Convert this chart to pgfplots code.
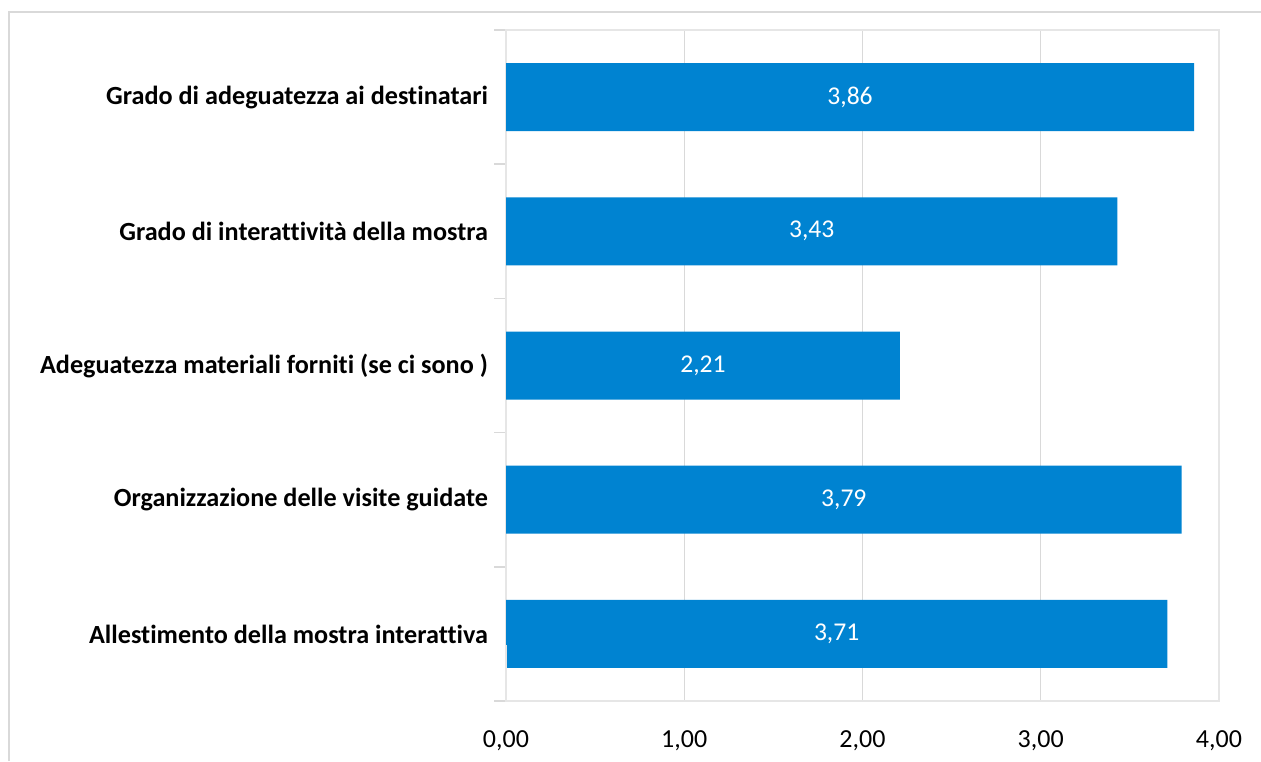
\documentclass[border=0pt]{standalone}
\usepackage{pgfplots}
\pgfplotsset{compat=1.18}
\usepackage{pgfplotstable}
\usepackage{fontspec}
\setmainfont[Ligatures={NoCommon}]{Carlito}
\definecolor{barblue}{HTML}{0083D1}
\definecolor{gridgray}{HTML}{D9D9D9}
\definecolor{axgray}{HTML}{E6E6E6}
\pgfplotstableread{
y v
0 3.71
1 3.79
2 2.21
3 3.43
4 3.86
}\data
\begin{document}
\begin{tikzpicture}
\path[use as bounding box] (0,0) rectangle (630.5pt,380.5pt);
\draw[gridgray, line width=1pt] (4.5pt,0) -- (4.5pt,374.5pt) -- (630.5pt,374.5pt);
\begin{axis}[
  at={(253pt,30pt)}, anchor=south west,
  scale only axis, width=356.5pt, height=335.5pt,
  xmin=0, xmax=4, ymin=-0.5, ymax=4.5,
  axis line style={axgray, line width=0.8pt},
  xtick={0,1,2,3,4},
  xtick pos=bottom, ytick pos=left,
  xmajorgrids, grid style={gridgray, line width=0.6pt},
  ytick={0,1,2,3,4},
  yticklabels={Allestimento della mostra interattiva, Organizzazione delle visite guidate, Adeguatezza materiali forniti (se ci sono ), Grado di interattività della mostra, Grado di adeguatezza ai destinatari},
  yticklabel style={font=\fontsize{13.1pt}{15pt}\selectfont\bfseries, text=black, xshift=-5.5pt},
  minor ytick={-0.5,0.5,1.5,2.5,3.5,4.5},
  major tick length=0pt,
  minor tick length=6pt,
  tick align=outside,
  minor tick style={gridgray, line width=0.8pt},
  xticklabel style={font=\fontsize{13pt}{15pt}\selectfont, text=black, yshift=-11.5pt},
  xticklabel={\pgfmathprintnumber[fixed, fixed zerofill, precision=2, use comma, assume math mode=true]{\tick}},
  clip=false,
]
\addplot[xbar, fill=barblue, draw=none, bar width=34pt] table[x=v, y=y]{\data};
\addplot[draw=none, nodes near coords, point meta=explicit,
  nodes near coords style={anchor=center, text=white, font=\fontsize{12.8pt}{14pt}\selectfont,
    /pgf/number format/.cd, fixed, fixed zerofill, precision=2, use comma, assume math mode=true}]
  table[x expr=\thisrow{v}/2, y=y, meta=v]{\data};
\draw[axgray, line width=0.8pt] (axis cs:0,-0.5) -- ++(0,-5.5pt);
\end{axis}
\end{tikzpicture}
\end{document}
